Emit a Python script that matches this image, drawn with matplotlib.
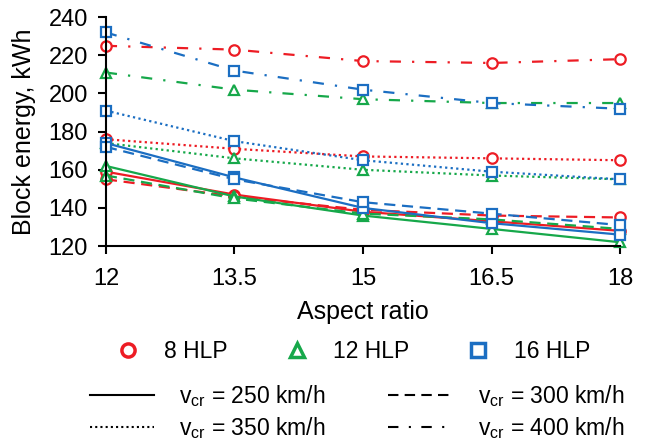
import numpy as np
import matplotlib
matplotlib.use('Agg')
import matplotlib.pyplot as plt
from matplotlib.lines import Line2D

plt.rcParams['font.family'] = ['Liberation Sans', 'DejaVu Sans']
plt.rcParams['mathtext.fontset'] = 'custom'
plt.rcParams['mathtext.rm'] = 'Liberation Sans'
plt.rcParams['mathtext.it'] = 'Liberation Sans'

aspect = [12, 13.5, 15, 16.5, 18]

# block energy (kWh) per number of HLP and cruise speed
hlp8_250 = [159, 147, 138, 133, 128]
hlp8_300 = [155, 146, 139, 136, 135]
hlp8_350 = [176, 171, 167, 166, 165]
hlp8_400 = [225, 223, 217, 216, 218]

hlp12_250 = [162, 146, 136, 129, 122]
hlp12_300 = [157, 145, 137, 134, 129]
hlp12_350 = [174, 166, 160, 157, 155]
hlp12_400 = [211, 202, 197, 195, 195]

hlp16_250 = [174, 156, 140, 132, 126]
hlp16_300 = [172, 155, 143, 137, 131]
hlp16_350 = [191, 175, 165, 159, 155]
hlp16_400 = [232, 212, 202, 195, 192]

red = '#ED1C24'
green = '#16A84A'
blue = '#1B6EC2'

ls_250 = '-'
ls_300 = (0, (5, 3))
ls_350 = (0, (1, 1.5))
ls_400 = (0, (5, 5, 1, 5))

fig = plt.figure(figsize=(6.5, 4.41), dpi=100)
ax = fig.add_axes([0.163, 0.442, 0.791, 0.519])

groups = [
    (red, 'o', [hlp8_250, hlp8_300, hlp8_350, hlp8_400]),
    (green, '^', [hlp12_250, hlp12_300, hlp12_350, hlp12_400]),
    (blue, 's', [hlp16_250, hlp16_300, hlp16_350, hlp16_400]),
]
styles = [ls_250, ls_300, ls_350, ls_400]

for col, mk, series in groups:
    for vals, ls in zip(series, styles):
        ax.plot(aspect, vals, color=col, ls=ls, lw=1.6, marker=mk, ms=7.5,
                mfc='white', mec=col, mew=1.6, clip_on=False)

ax.set_xlim(12, 18)
ax.set_ylim(120, 240)
ax.set_xticks(aspect)
ax.set_xticklabels(['12', '13.5', '15', '16.5', '18'])
ax.set_yticks(np.arange(120, 241, 20))
ax.tick_params(labelsize=17, width=1.5, length=6, direction='out')
ax.tick_params(axis='x', pad=10)
ax.tick_params(axis='y', pad=7)
for s in ['top', 'right']:
    ax.spines[s].set_visible(False)
for s in ['left', 'bottom']:
    ax.spines[s].set_linewidth(1.5)
ax.set_xlabel('Aspect ratio', fontsize=18, labelpad=7)
ax.set_ylabel('Block energy, kWh', fontsize=18, labelpad=9)

h1 = [Line2D([], [], ls='none', marker=mk, ms=9.5, mfc='white', mec=col, mew=2.5)
      for col, mk, _ in groups]
fig.legend(h1, ['8 HLP', '12 HLP', '16 HLP'], ncol=3, frameon=False,
           loc='center', bbox_to_anchor=(0.535, 0.202), fontsize=16.5,
           columnspacing=2.0, handletextpad=0.57)

lab = [r'v$_{\mathrm{cr}}$ = 250 km/h', r'v$_{\mathrm{cr}}$ = 300 km/h',
       r'v$_{\mathrm{cr}}$ = 350 km/h', r'v$_{\mathrm{cr}}$ = 400 km/h']
h2 = [Line2D([], [], color='black', ls=ls, lw=1.5) for ls in styles]
# column order: 250, 350 | 300, 400
order = [0, 2, 1, 3]
fig.legend([h2[i] for i in order], [lab[i] for i in order], ncol=2,
           frameon=False, loc='center', bbox_to_anchor=(0.549, 0.066),
           fontsize=16.5, handlelength=2.8, columnspacing=2.75,
           handletextpad=1.1, labelspacing=0.25, borderpad=0.2)

fig.savefig('out.png', dpi=100)
